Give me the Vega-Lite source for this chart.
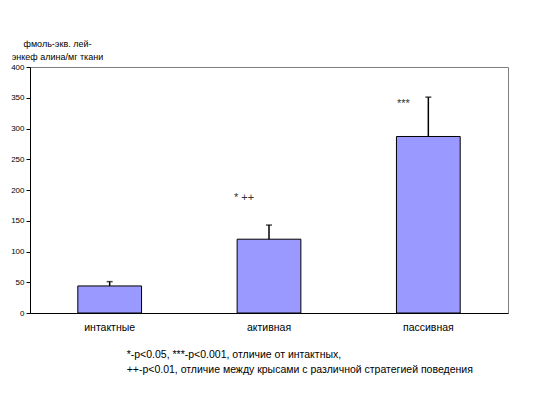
{
  "$schema": "https://vega.github.io/schema/vega-lite/v6.json",
  "autosize": "none",
  "width": 478,
  "height": 246,
  "padding": {"left": 30, "top": 67, "right": 45, "bottom": 85},
  "background": "white",
  "config": {
    "font": "Liberation Sans",
    "view": {"stroke": "#808080", "strokeWidth": 1},
    "axisY": {
      "tickCount": 8,
      "labelOverlap": false,
      "grid": false,
      "labelFontSize": 8,
      "labelColor": "#000000",
      "labelPadding": 2,
      "tickColor": "#000000",
      "tickSize": 4,
      "domainColor": "#000000",
      "domainWidth": 1
    }
  },
  "title": {
    "text": ["*-p<0.05, ***-p<0.001, отличие от интактных,", "++-p<0.01, отличие между крысами с различной стратегией поведения"],
    "orient": "bottom",
    "anchor": "start",
    "dx": 116,
    "offset": 17,
    "fontSize": 10.5,
    "fontWeight": "normal",
    "lineHeight": 15,
    "color": "#000000",
    "font": "Liberation Sans"
  },
  "data": {
    "values": [
      {"group": "интактные", "value": 44, "upper": 51, "sig": "", "sig_pos": 0},
      {"group": "активная", "value": 120, "upper": 143, "sig": "*  ++", "sig_pos": 187},
      {"group": "пассивная", "value": 287, "upper": 351, "sig": "***", "sig_pos": 340}
    ]
  },
  "encoding": {
    "x": {
      "field": "group",
      "type": "nominal",
      "sort": null,
      "scale": {"paddingInner": 0.6, "paddingOuter": 0.3},
      "axis": {
        "title": null,
        "labelAngle": 0,
        "labelFontSize": 10.5,
        "labelColor": "#000000",
        "labelPadding": 9,
        "ticks": false,
        "domainColor": "#000000",
        "domainWidth": 1
      }
    }
  },
  "layer": [
    {
      "mark": {"type": "bar", "fill": "#9999FF", "stroke": "#000000", "strokeWidth": 1},
      "encoding": {
        "y": {
          "field": "value",
          "type": "quantitative",
          "scale": {"domain": [0, 400], "nice": false},
          "axis": {
            "title": ["фмоль-экв. лей-", "энкеф алина/мг ткани"],
            "titleAngle": 0,
            "titleAlign": "center",
            "titleBaseline": "alphabetic",
            "titleX": 27,
            "titleY": -21,
            "titleFontSize": 9,
            "titleFontWeight": "normal",
            "titleLineHeight": 13,
            "titleColor": "#000000"
          }
        }
      }
    },
    {
      "mark": {"type": "rule", "color": "#000000", "strokeWidth": 1.5},
      "encoding": {
        "y": {"field": "value", "type": "quantitative"},
        "y2": {"field": "upper"}
      }
    },
    {
      "mark": {"type": "tick", "color": "#000000", "orient": "horizontal", "size": 6, "thickness": 1.5},
      "encoding": {
        "y": {"field": "upper", "type": "quantitative"}
      }
    },
    {
      "mark": {"type": "text", "dx": -25, "fontSize": 11, "color": "#333333", "baseline": "middle"},
      "encoding": {
        "y": {"field": "sig_pos", "type": "quantitative"},
        "text": {"field": "sig"}
      }
    }
  ]
}
